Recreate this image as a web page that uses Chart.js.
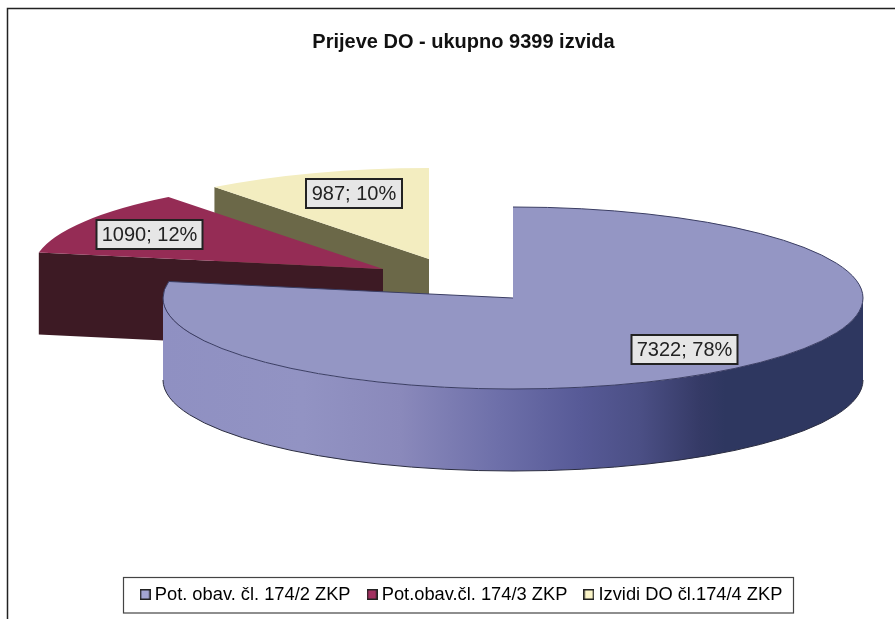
<!DOCTYPE html>
<html>
<head>
<meta charset="utf-8">
<style>html,body{margin:0;padding:0;background:#fff}canvas{display:block}</style>
<script src="https://cdn.jsdelivr.net/npm/chart.js@4"></script>
</head>
<body>
<canvas id="c" width="895" height="619"></canvas>
<script>
const categories = ['Pot. obav. čl. 174/2 ZKP', 'Pot.obav.čl. 174/3 ZKP', 'Izvidi DO čl.174/4 ZKP'];
const values = [7322, 1090, 987];
const percents = [78, 12, 10];
const titleText = 'Prijeve DO - ukupno 9399 izvida';

const FONT = '"Liberation Sans", Arial, sans-serif';
const squash = 0.26, depth = 82, radiusPx = 350;
const centre = {x: 513, y: 298};
const shifts = [{x: 0, y: 0}, {x: -130, y: -29}, {x: -84, y: -39}];
const topColours = ['#9496c4', '#952c55', '#f3edc0'];
const cutColours = [null, '#3d1a24', '#6b6848'];
const legendColours = ['#a3a5d3', '#a23060', '#fbf5c8'];
const labelBoxes = [{x: 631.5, y: 335, w: 106, h: 29}, {x: 96.5, y: 220, w: 106, h: 29}, {x: 306, y: 179, w: 96, h: 29}];
const wallStops = [[0,'#8f90c2'],[0.2,'#9293c3'],[0.339,'#8a89bb'],[0.481,'#6d6fa9'],[0.596,'#575a97'],[0.681,'#4b4f85'],[0.767,'#353a66'],[0.803,'#2e3760'],[1,'#2e3760']];

function swatch(colour) {
  const s = document.createElement('canvas');
  s.width = 11; s.height = 11;
  const g = s.getContext('2d');
  g.fillStyle = colour;
  g.fillRect(0, 0, 11, 11);
  g.strokeStyle = '#222';
  g.lineWidth = 1.5;
  g.strokeRect(0.75, 0.75, 9.5, 9.5);
  return s;
}

const pie3d = {
  id: 'pie3d',
  afterLayout(chart) {
    chart.titleBlock.left += 5;
    chart.titleBlock.right += 5;
    const lg = chart.legend;
    const dy = 589 - (lg.top + lg.height / 2);
    lg.top += dy; lg.bottom += dy;
    lg.left += 5; lg.right += 5;
  },
  beforeDraw(chart) {
    const ctx = chart.ctx;
    ctx.save();
    ctx.strokeStyle = '#222';
    ctx.lineWidth = 1.5;
    ctx.beginPath();
    ctx.moveTo(7.5, 619);
    ctx.lineTo(7.5, 8.5);
    ctx.lineTo(895, 8.5);
    ctx.stroke();
    ctx.restore();
  },
  beforeDatasetsDraw(chart) {
    const ctx = chart.ctx;
    const arcs = chart.getDatasetMeta(0).data;
    const ptAt = (i, a) => ({
      x: centre.x + shifts[i].x + Math.cos(a) * arcs[i].outerRadius,
      y: centre.y + shifts[i].y + Math.sin(a) * arcs[i].outerRadius * squash
    });
    const drawTop = i => {
      ctx.save();
      ctx.translate(centre.x + shifts[i].x, centre.y + shifts[i].y);
      ctx.scale(1, squash);
      ctx.translate(-arcs[i].x, -arcs[i].y);
      arcs[i].draw(ctx);
      ctx.restore();
    };
    const drawCut = i => {
      const apex = {x: centre.x + shifts[i].x, y: centre.y + shifts[i].y};
      const tip = ptAt(i, arcs[i].startAngle);
      ctx.fillStyle = cutColours[i];
      ctx.beginPath();
      ctx.moveTo(tip.x, tip.y);
      ctx.lineTo(apex.x, apex.y);
      ctx.lineTo(apex.x, apex.y + depth);
      ctx.lineTo(tip.x, tip.y + depth);
      ctx.closePath();
      ctx.fill();
    };
    drawCut(2); drawTop(2);
    drawCut(1); drawTop(1);
    const r = arcs[0].outerRadius, ry = r * squash;
    const grad = ctx.createLinearGradient(centre.x - r, 0, centre.x + r, 0);
    wallStops.forEach(s => grad.addColorStop(s[0], s[1]));
    ctx.fillStyle = grad;
    ctx.beginPath();
    ctx.ellipse(centre.x, centre.y, r, ry, 0, 0, Math.PI, false);
    ctx.lineTo(centre.x - r, centre.y + depth);
    ctx.ellipse(centre.x, centre.y + depth, r, ry, 0, Math.PI, 0, true);
    ctx.closePath();
    ctx.fill();
    ctx.strokeStyle = '#2a2c40';
    ctx.lineWidth = 1;
    ctx.beginPath();
    ctx.ellipse(centre.x, centre.y + depth, r, ry, 0, 0, Math.PI, false);
    ctx.stroke();
    drawTop(0);
    ctx.strokeStyle = '#3a3d63';
    ctx.beginPath();
    ctx.ellipse(centre.x, centre.y, r, ry, 0, arcs[0].startAngle, arcs[0].endAngle, false);
    ctx.lineTo(centre.x, centre.y);
    ctx.stroke();
    ctx.font = '20px ' + FONT;
    ctx.textAlign = 'center';
    ctx.textBaseline = 'middle';
    values.forEach((v, i) => {
      const b = labelBoxes[i];
      ctx.fillStyle = '#e6e6e6';
      ctx.fillRect(b.x, b.y, b.w, b.h);
      ctx.strokeStyle = '#222';
      ctx.lineWidth = 2;
      ctx.strokeRect(b.x, b.y, b.w, b.h);
      ctx.fillStyle = '#222';
      ctx.fillText(v + '; ' + percents[i] + '%', b.x + b.w / 2, b.y + b.h / 2 + 1);
    });
    return false;
  },
  afterDraw(chart) {
    const ctx = chart.ctx;
    ctx.save();
    ctx.strokeStyle = '#444';
    ctx.lineWidth = 1.2;
    ctx.strokeRect(123.5, 577.5, 670, 35.5);
    ctx.restore();
  }
};

new Chart(document.getElementById('c'), {
  type: 'pie',
  data: {
    labels: categories,
    datasets: [{
      data: values,
      backgroundColor: topColours,
      borderWidth: 0,
      clip: false
    }]
  },
  options: {
    responsive: false,
    animation: false,
    radius: radiusPx,
    rotation: 0,
    layout: {padding: {left: 22, right: 0, top: 0, bottom: 0}},
    plugins: {
      tooltip: {enabled: false},
      title: {
        display: true,
        text: titleText,
        color: '#111',
        font: {family: FONT, size: 20, weight: 'bold'},
        padding: {top: 30, bottom: 10}
      },
      legend: {
        position: 'bottom',
        labels: {
          usePointStyle: true,
          pointStyleWidth: 1,
          boxHeight: 11,
          color: '#222',
          padding: 21,
          font: {family: FONT, size: 18.3},
          generateLabels: () => categories.map((t, i) => ({
            text: t,
            fillStyle: legendColours[i],
            strokeStyle: '#222',
            lineWidth: 0,
            pointStyle: swatch(legendColours[i]),
            index: i
          }))
        }
      }
    }
  },
  plugins: [pie3d]
});
</script>
</body>
</html>
